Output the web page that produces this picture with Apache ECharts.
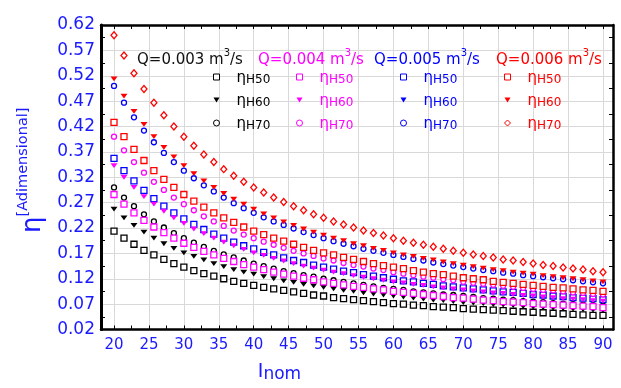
<!DOCTYPE html>
<html>
<head>
<meta charset="utf-8">
<script src="https://cdn.jsdelivr.net/npm/echarts@6/dist/echarts.min.js"></script>
<style>
  html, body { margin: 0; padding: 0; background: #fff; }
  #chart { width: 621px; height: 388px; }
</style>
</head>
<body>
<div id="chart"></div>
<script>
// I_nom values (x)
const iNom = [20, 21.43, 22.86, 24.29, 25.71, 27.14, 28.57, 30, 31.43, 32.86,
  34.29, 35.71, 37.14, 38.57, 40, 41.43, 42.86, 44.29, 45.71, 47.14,
  48.57, 50, 51.43, 52.86, 54.29, 55.71, 57.14, 58.57, 60, 61.43,
  62.86, 64.29, 65.71, 67.14, 68.57, 70, 71.43, 72.86, 74.29, 75.71,
  77.14, 78.57, 80, 81.43, 82.86, 84.29, 85.71, 87.14, 88.57, 90]

// Q = 0.003 m3/s
const q003H50 = [0.214, 0.200, 0.188, 0.176, 0.167, 0.158, 0.150, 0.143, 0.136, 0.130,
  0.125, 0.120, 0.115, 0.111, 0.107, 0.103, 0.100, 0.097, 0.094, 0.091,
  0.088, 0.086, 0.083, 0.081, 0.079, 0.077, 0.075, 0.073, 0.071, 0.070,
  0.068, 0.067, 0.065, 0.064, 0.063, 0.061, 0.060, 0.059, 0.058, 0.057,
  0.056, 0.055, 0.054, 0.053, 0.052, 0.051, 0.050, 0.049, 0.048, 0.048]
const q003H60 = [0.257, 0.240, 0.225, 0.212, 0.200, 0.189, 0.180, 0.171, 0.164, 0.157,
  0.150, 0.144, 0.138, 0.133, 0.129, 0.124, 0.120, 0.116, 0.113, 0.109,
  0.106, 0.103, 0.100, 0.097, 0.095, 0.092, 0.090, 0.088, 0.086, 0.084,
  0.082, 0.080, 0.078, 0.077, 0.075, 0.073, 0.072, 0.071, 0.069, 0.068,
  0.067, 0.065, 0.064, 0.063, 0.062, 0.061, 0.060, 0.059, 0.058, 0.057]
const q003H70 = [0.300, 0.280, 0.263, 0.247, 0.233, 0.221, 0.210, 0.200, 0.191, 0.183,
  0.175, 0.168, 0.162, 0.156, 0.150, 0.145, 0.140, 0.135, 0.131, 0.127,
  0.124, 0.120, 0.117, 0.114, 0.111, 0.108, 0.105, 0.102, 0.100, 0.098,
  0.095, 0.093, 0.091, 0.089, 0.088, 0.086, 0.084, 0.082, 0.081, 0.079,
  0.078, 0.076, 0.075, 0.074, 0.072, 0.071, 0.070, 0.069, 0.068, 0.067]

// Q = 0.004 m3/s
const q004H50 = [0.286, 0.267, 0.250, 0.235, 0.222, 0.211, 0.200, 0.190, 0.182, 0.174,
  0.167, 0.160, 0.154, 0.148, 0.143, 0.138, 0.133, 0.129, 0.125, 0.121,
  0.118, 0.114, 0.111, 0.108, 0.105, 0.103, 0.100, 0.098, 0.095, 0.093,
  0.091, 0.089, 0.087, 0.085, 0.083, 0.082, 0.080, 0.078, 0.077, 0.075,
  0.074, 0.073, 0.071, 0.070, 0.069, 0.068, 0.067, 0.066, 0.065, 0.063]
const q004H60 = [0.343, 0.320, 0.300, 0.282, 0.267, 0.253, 0.240, 0.229, 0.218, 0.209,
  0.200, 0.192, 0.185, 0.178, 0.171, 0.166, 0.160, 0.155, 0.150, 0.145,
  0.141, 0.137, 0.133, 0.130, 0.126, 0.123, 0.120, 0.117, 0.114, 0.112,
  0.109, 0.107, 0.104, 0.102, 0.100, 0.098, 0.096, 0.094, 0.092, 0.091,
  0.089, 0.087, 0.086, 0.084, 0.083, 0.081, 0.080, 0.079, 0.077, 0.076]
const q004H70 = [0.400, 0.373, 0.350, 0.329, 0.311, 0.295, 0.280, 0.267, 0.255, 0.243,
  0.233, 0.224, 0.215, 0.207, 0.200, 0.193, 0.187, 0.181, 0.175, 0.170,
  0.165, 0.160, 0.156, 0.151, 0.147, 0.144, 0.140, 0.137, 0.133, 0.130,
  0.127, 0.124, 0.122, 0.119, 0.117, 0.114, 0.112, 0.110, 0.108, 0.106,
  0.104, 0.102, 0.100, 0.098, 0.097, 0.095, 0.093, 0.092, 0.090, 0.089]

// Q = 0.005 m3/s
const q005H50 = [0.357, 0.333, 0.313, 0.294, 0.278, 0.263, 0.250, 0.238, 0.227, 0.217,
  0.208, 0.200, 0.192, 0.185, 0.179, 0.172, 0.167, 0.161, 0.156, 0.152,
  0.147, 0.143, 0.139, 0.135, 0.132, 0.128, 0.125, 0.122, 0.119, 0.116,
  0.114, 0.111, 0.109, 0.106, 0.104, 0.102, 0.100, 0.098, 0.096, 0.094,
  0.093, 0.091, 0.089, 0.088, 0.086, 0.085, 0.083, 0.082, 0.081, 0.079]
const q005H60 = [0.429, 0.400, 0.375, 0.353, 0.333, 0.316, 0.300, 0.286, 0.273, 0.261,
  0.250, 0.240, 0.231, 0.222, 0.214, 0.207, 0.200, 0.194, 0.188, 0.182,
  0.176, 0.171, 0.167, 0.162, 0.158, 0.154, 0.150, 0.146, 0.143, 0.140,
  0.136, 0.133, 0.130, 0.128, 0.125, 0.122, 0.120, 0.118, 0.115, 0.113,
  0.111, 0.109, 0.107, 0.105, 0.103, 0.102, 0.100, 0.098, 0.097, 0.095]
const q005H70 = [0.500, 0.467, 0.438, 0.412, 0.389, 0.368, 0.350, 0.333, 0.318, 0.304,
  0.292, 0.280, 0.269, 0.259, 0.250, 0.241, 0.233, 0.226, 0.219, 0.212,
  0.206, 0.200, 0.194, 0.189, 0.184, 0.179, 0.175, 0.171, 0.167, 0.163,
  0.159, 0.156, 0.152, 0.149, 0.146, 0.143, 0.140, 0.137, 0.135, 0.132,
  0.130, 0.127, 0.125, 0.123, 0.121, 0.119, 0.117, 0.115, 0.113, 0.111]

// Q = 0.006 m3/s
const q006H50 = [0.428, 0.400, 0.375, 0.353, 0.333, 0.316, 0.300, 0.286, 0.273, 0.261,
  0.250, 0.240, 0.231, 0.222, 0.214, 0.207, 0.200, 0.194, 0.188, 0.182,
  0.176, 0.171, 0.167, 0.162, 0.158, 0.154, 0.150, 0.146, 0.143, 0.140,
  0.136, 0.133, 0.130, 0.128, 0.125, 0.122, 0.120, 0.118, 0.115, 0.113,
  0.111, 0.109, 0.107, 0.105, 0.103, 0.102, 0.100, 0.098, 0.097, 0.095]
const q006H60 = [0.514, 0.480, 0.450, 0.424, 0.400, 0.379, 0.360, 0.343, 0.327, 0.313,
  0.300, 0.288, 0.277, 0.267, 0.257, 0.248, 0.240, 0.232, 0.225, 0.218,
  0.212, 0.206, 0.200, 0.195, 0.189, 0.185, 0.180, 0.176, 0.171, 0.167,
  0.164, 0.160, 0.157, 0.153, 0.150, 0.147, 0.144, 0.141, 0.138, 0.136,
  0.133, 0.131, 0.129, 0.126, 0.124, 0.122, 0.120, 0.118, 0.116, 0.114]
const q006H70 = [0.600, 0.560, 0.525, 0.494, 0.467, 0.442, 0.420, 0.400, 0.382, 0.365,
  0.350, 0.336, 0.323, 0.311, 0.300, 0.290, 0.280, 0.271, 0.263, 0.255,
  0.247, 0.240, 0.233, 0.227, 0.221, 0.215, 0.210, 0.205, 0.200, 0.195,
  0.191, 0.187, 0.183, 0.179, 0.175, 0.171, 0.168, 0.165, 0.162, 0.158,
  0.156, 0.153, 0.150, 0.147, 0.145, 0.142, 0.140, 0.138, 0.135, 0.133]

// axis ticks
const xLabelTicks = [20, 25, 30, 35, 40, 45, 50, 55, 60, 65, 70, 75, 80, 85, 90]
const xSmallTicks = [20, 22.5, 25, 27.5, 30, 32.5, 35, 37.5, 40, 42.5, 45, 47.5, 50, 52.5,
  55, 57.5, 60, 62.5, 65, 67.5, 70, 72.5, 75, 77.5, 80, 82.5, 85, 87.5, 90]

const flows = ['0.003', '0.004', '0.005', '0.006']
const colors = { '0.003': '#000000', '0.004': '#ff00ff', '0.005': '#0000ff', '0.006': '#ff0000' }
const triDown = 'path://M0,0 L10,0 L5,8 Z'
const FONT = 'DejaVu Sans'
const BLUE = '#1a1aff'

function mk (q, h, ys) {
  // open markers: white fill with a thin coloured border
  let symbol = 'rect'
  let size = 6
  let style = { color: '#fff', borderColor: colors[q], borderWidth: 1.3, opacity: 1 }
  if (h === 'H60') {
    symbol = triDown
    size = [7, 6]
    style = { color: colors[q], opacity: 1 }
  }
  if (h === 'H70') {
    symbol = q === '0.006' ? 'diamond' : 'circle'
    size = q === '0.006' ? [6, 7] : 5
  }
  return {
    name: 'η' + h + ' Q=' + q,
    type: 'scatter',
    symbol: symbol,
    symbolSize: size,
    symbolKeepAspect: true,
    itemStyle: style,
    xAxisIndex: 0,
    yAxisIndex: 0,
    data: iNom.map((x, i) => [x, ys[i]])
  }
}

// drawing order: black, blue, magenta, red
const series = [
  mk('0.003', 'H50', q003H50), mk('0.003', 'H60', q003H60), mk('0.003', 'H70', q003H70),
  mk('0.005', 'H50', q005H50), mk('0.005', 'H60', q005H60), mk('0.005', 'H70', q005H70),
  mk('0.004', 'H50', q004H50), mk('0.004', 'H60', q004H60), mk('0.004', 'H70', q004H70),
  mk('0.006', 'H50', q006H50), mk('0.006', 'H60', q006H60), mk('0.006', 'H70', q006H70)
]

// legend icon centre x minus 3
const legendLeft = { '0.003': 213, '0.004': 296, '0.005': 400, '0.006': 504 }
const headerLeft = { '0.003': 137, '0.004': 258, '0.005': 374, '0.006': 496 }

const legends = flows.map(q => ({
  orient: 'vertical',
  left: legendLeft[q],
  top: 71,
  padding: 0,
  itemGap: 8,
  itemWidth: 6,
  itemHeight: 6,
  itemStyle: { borderWidth: 1 },
  selectedMode: false,
  data: ['H50', 'H60', 'H70'].map(h => 'η' + h + ' Q=' + q),
  formatter: name => '{e|η}{s|' + name.slice(1, 4) + '}',
  textStyle: {
    color: colors[q],
    rich: {
      e: { fontFamily: FONT, fontSize: 15, lineHeight: 18, verticalAlign: 'bottom', padding: [0, 0, 0, 12], color: colors[q] },
      s: { fontFamily: FONT, fontSize: 12, lineHeight: 18, verticalAlign: 'bottom', color: colors[q] }
    }
  }
}))

const titles = flows.map(q => ({
  text: '{t|Q=' + q + ' m}{p|3}{t|/s}',
  left: headerLeft[q],
  top: 48,
  padding: 0,
  textStyle: {
    fontWeight: 'normal',
    rich: {
      t: { fontFamily: FONT, fontWeight: 'normal', fontSize: 15, lineHeight: 20, verticalAlign: 'bottom', color: colors[q] === '#000000' ? '#111' : colors[q] },
      p: { fontFamily: FONT, fontWeight: 'normal', fontSize: 10, lineHeight: 20, verticalAlign: 'top', color: colors[q] === '#000000' ? '#111' : colors[q] }
    }
  }
}))

const myChart = echarts.init(document.getElementById('chart'), null, { renderer: 'canvas' })
const option = {
  animation: false,
  backgroundColor: '#fff',
  title: titles,
  legend: legends,
  grid: { left: 101, right: 8, top: 25, bottom: 57 },
  xAxis: [
    {
      type: 'value',
      position: 'bottom',
      min: 18.139,
      max: 91.432,
      axisLine: { show: true, lineStyle: { color: '#000', width: 2.5 } },
      axisTick: { show: true, inside: true, length: 4, customValues: xSmallTicks, lineStyle: { color: '#000' } },
      axisLabel: { customValues: xLabelTicks, color: BLUE, fontFamily: FONT, fontSize: 15, margin: 8 },
      splitLine: { show: false },
      name: '{i|I}{n|nom}',
      nameLocation: 'middle',
      nameGap: 33,
      nameTextStyle: {
        padding: [0, 155, 0, 0],
        rich: {
          i: { fontFamily: FONT, fontSize: 19, lineHeight: 20, verticalAlign: 'top', color: BLUE },
          n: { fontFamily: FONT, fontSize: 17, lineHeight: 20, padding: [4, 0, 0, 0], color: BLUE }
        }
      }
    },
    {
      type: 'value',
      position: 'top',
      min: 18.139,
      max: 91.432,
      axisLine: { show: true, lineStyle: { color: '#000', width: 2.5 } },
      axisTick: { show: true, inside: true, length: 4, customValues: xSmallTicks, lineStyle: { color: '#000' } },
      axisLabel: { show: false },
      splitLine: { show: false }
    },
    {
      // vertical grid lines only
      type: 'value',
      position: 'bottom',
      min: 18.139,
      max: 91.432,
      axisLine: { show: false },
      axisTick: { show: false, customValues: xLabelTicks },
      axisLabel: { show: false },
      splitLine: { show: true, lineStyle: { color: '#d9d9d9', width: 1 } }
    }
  ],
  yAxis: [
    {
      type: 'value',
      position: 'left',
      min: 0.02,
      max: 0.62,
      interval: 0.05,
      axisLine: { show: true, lineStyle: { color: '#000', width: 3 } },
      axisTick: { show: false, inside: true },
      minorTick: { show: true, splitNumber: 2, length: 4, lineStyle: { color: '#000' } },
      axisLabel: { color: BLUE, fontFamily: FONT, fontSize: 17, margin: 6, formatter: v => v.toFixed(2) },
      splitLine: { show: true, lineStyle: { color: '#d9d9d9', width: 1 } },
      name: '{e|η}{a|[Adimensional]}',
      nameLocation: 'middle',
      nameGap: 55,
      nameRotate: 90,
      nameTextStyle: {
        padding: [0, 0, 0, 14],
        rich: {
          e: { fontFamily: FONT, fontSize: 26, lineHeight: 30, verticalAlign: 'bottom', color: BLUE },
          a: { fontFamily: FONT, fontSize: 14.5, lineHeight: 15, verticalAlign: 'top', color: BLUE }
        }
      }
    },
    {
      type: 'value',
      position: 'right',
      min: 0.02,
      max: 0.62,
      interval: 0.05,
      axisLine: { show: true, lineStyle: { color: '#000', width: 2.5 } },
      axisTick: { show: false, inside: true },
      minorTick: { show: true, splitNumber: 2, length: 4, lineStyle: { color: '#000' } },
      axisLabel: { show: false },
      splitLine: { show: false }
    }
  ],
  series: series
}
myChart.setOption(option)
</script>
</body>
</html>
